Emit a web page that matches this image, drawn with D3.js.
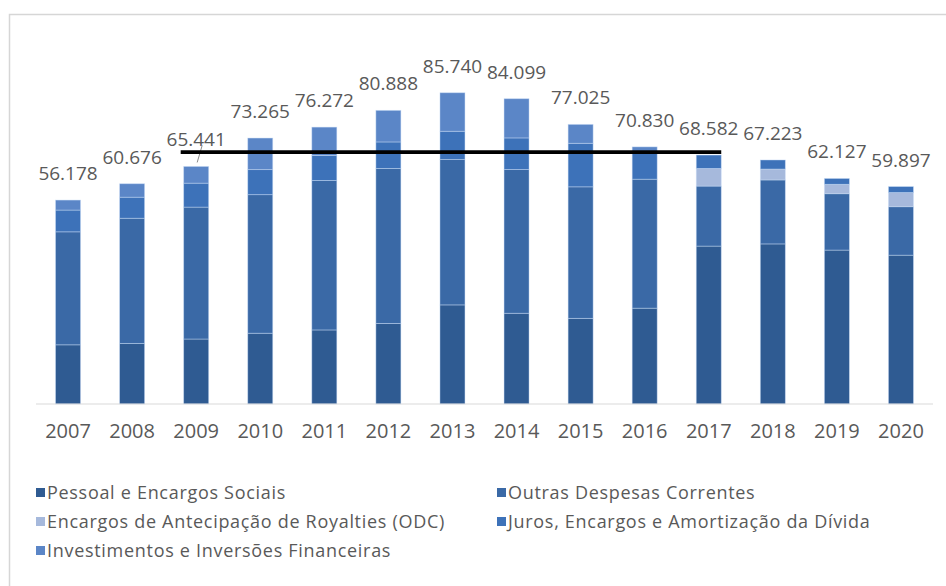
<!DOCTYPE html>
<html>
<head>
<meta charset="utf-8">
<script src="https://cdn.jsdelivr.net/npm/d3@7"></script>
<style>
  html, body { margin: 0; padding: 0; background: #ffffff; }
  svg { display: block; }
  text { font-family: "Open Sans", "Liberation Sans", sans-serif; fill: #595959; }
</style>
</head>
<body>
<svg id="chart" width="946" height="586"></svg>
<script>
// Despesas por grupo de natureza (R$ bilhões), 2007–2020
const years = ["2007","2008","2009","2010","2011","2012","2013","2014","2015","2016","2017","2018","2019","2020"];
const totals = [56.178, 60.676, 65.441, 73.265, 76.272, 80.888, 85.740, 84.099, 77.025, 70.830, 68.582, 67.223, 62.127, 59.897];
const totalLabels = ["56.178","60.676","65.441","73.265","76.272","80.888","85.740","84.099","77.025","70.830","68.582","67.223","62.127","59.897"];

const pessoal       = [16.3, 16.7, 17.9, 19.5, 20.4, 22.2, 27.3, 25.0, 23.6, 26.4, 43.5, 44.1, 42.4, 41.0];
const outras        = [31.128, 34.476, 36.341, 38.165, 41.172, 42.688, 40.04, 39.599, 36.225, 35.53, 16.532, 17.623, 15.527, 13.347];
const royalties     = [0, 0, 0, 0, 0, 0, 0, 0, 0, 0, 4.85, 3.0, 2.6, 3.9];
const juros         = [6.0, 5.8, 6.6, 6.9, 6.9, 7.3, 7.8, 8.7, 12.0, 7.4, 3.7, 2.5, 1.6, 1.65];
const investimentos = [2.75, 3.7, 4.6, 8.7, 7.8, 8.7, 10.6, 10.8, 5.2, 1.5, 0, 0, 0, 0];

const seriesNames = [
  "Pessoal e Encargos Sociais",
  "Outras Despesas Correntes",
  "Encargos de Antecipação de Royalties (ODC)",
  "Juros, Encargos e Amortização da Dívida",
  "Investimentos e Inversões Financeiras"
];
const seriesColors = ["#2f5b92", "#3a69a6", "#a6b9dc", "#3d72b9", "#5b86c7"];

// horizontal reference level drawn across 2009–2017
const referenceLevel = 69.4;
const referenceFrom = "2009";
const referenceTo = "2017";
const leaderYears = ["2009"];

const seriesValues = [pessoal, outras, royalties, juros, investimentos];
const keys = seriesNames;
const table = years.map((yr, i) => {
  const row = { year: yr };
  keys.forEach((k, s) => { row[k] = seriesValues[s][i]; });
  return row;
});

const svg = d3.select("#chart");

// outer frame
svg.append("rect")
  .attr("x", 9.5).attr("y", 14.5)
  .attr("width", 960).attr("height", 600)
  .attr("fill", "none")
  .attr("stroke", "#d6d6d6")
  .attr("stroke-width", 1.5);

const x = d3.scaleBand()
  .domain(years)
  .range([36, 933])
  .paddingInner(0.61)
  .paddingOuter(0.305);

const y = d3.scaleLinear()
  .domain([0, 100])
  .range([404, 41]);

const color = d3.scaleOrdinal().domain(keys).range(seriesColors);

const stacked = d3.stack().keys(keys)(table);

// stacked bars
svg.append("g")
  .selectAll("g")
  .data(stacked)
  .join("g")
    .attr("fill", d => color(d.key))
  .selectAll("rect")
  .data(d => d)
  .join("rect")
    .attr("x", d => x(d.data.year))
    .attr("y", d => y(d[1]))
    .attr("width", x.bandwidth())
    .attr("height", d => Math.max(0, y(d[0]) - y(d[1])))
    .attr("stroke", "rgba(200,220,245,0.55)")
    .attr("stroke-width", 0.8);

// category axis
const xAxis = svg.append("g")
  .attr("transform", "translate(0,404)")
  .call(d3.axisBottom(x).tickSize(0).tickPadding(20));
xAxis.select(".domain").attr("stroke", "#d9d9d9").attr("stroke-width", 1.2)
  .attr("d", "M36,0H933");
xAxis.selectAll("text")
  .style("font-family", '"Open Sans", "Liberation Sans", sans-serif')
  .style("font-size", "20px")
  .attr("fill", "#595959");

// total labels
svg.append("g")
  .selectAll("text")
  .data(years)
  .join("text")
    .attr("x", (d) => x(d) + x.bandwidth() / 2)
    .attr("y", (d, i) => y(totals[i]) - 20)
    .attr("text-anchor", "middle")
    .style("font-size", "19px")
    .text((d, i) => totalLabels[i]);

// label leader lines
svg.append("g")
  .selectAll("line")
  .data(leaderYears)
  .join("line")
    .attr("x1", d => x(d) + x.bandwidth() / 2 + 6)
    .attr("y1", d => y(totals[years.indexOf(d)]) - 21)
    .attr("x2", d => x(d) + x.bandwidth() / 2 + 1)
    .attr("y2", d => y(totals[years.indexOf(d)]) - 4)
    .attr("stroke", "#8c8c8c")
    .attr("stroke-width", 1);

// reference line
svg.append("line")
  .attr("x1", x(referenceFrom) - 3)
  .attr("x2", x(referenceTo) + x.bandwidth())
  .attr("y1", y(referenceLevel))
  .attr("y2", y(referenceLevel))
  .attr("stroke", "#000000")
  .attr("stroke-width", 3.6);

// legend
const legendItems = [
  { name: seriesNames[0], col: 0, row: 0 },
  { name: seriesNames[1], col: 1, row: 0 },
  { name: seriesNames[2], col: 0, row: 1 },
  { name: seriesNames[3], col: 1, row: 1 },
  { name: seriesNames[4], col: 0, row: 2 }
];
const legend = svg.append("g")
  .selectAll("g")
  .data(legendItems)
  .join("g")
    .attr("transform", d => `translate(${d.col === 0 ? 36 : 497},${493 + d.row * 29})`);
legend.append("rect")
  .attr("x", 0).attr("y", -5)
  .attr("width", 9).attr("height", 9)
  .attr("fill", d => color(d.name));
legend.append("text")
  .attr("x", 11).attr("y", 0)
  .attr("dy", "0.35em")
  .style("font-size", "18px")
  .style("letter-spacing", "0.7px")
  .text(d => d.name);
</script>
</body>
</html>
